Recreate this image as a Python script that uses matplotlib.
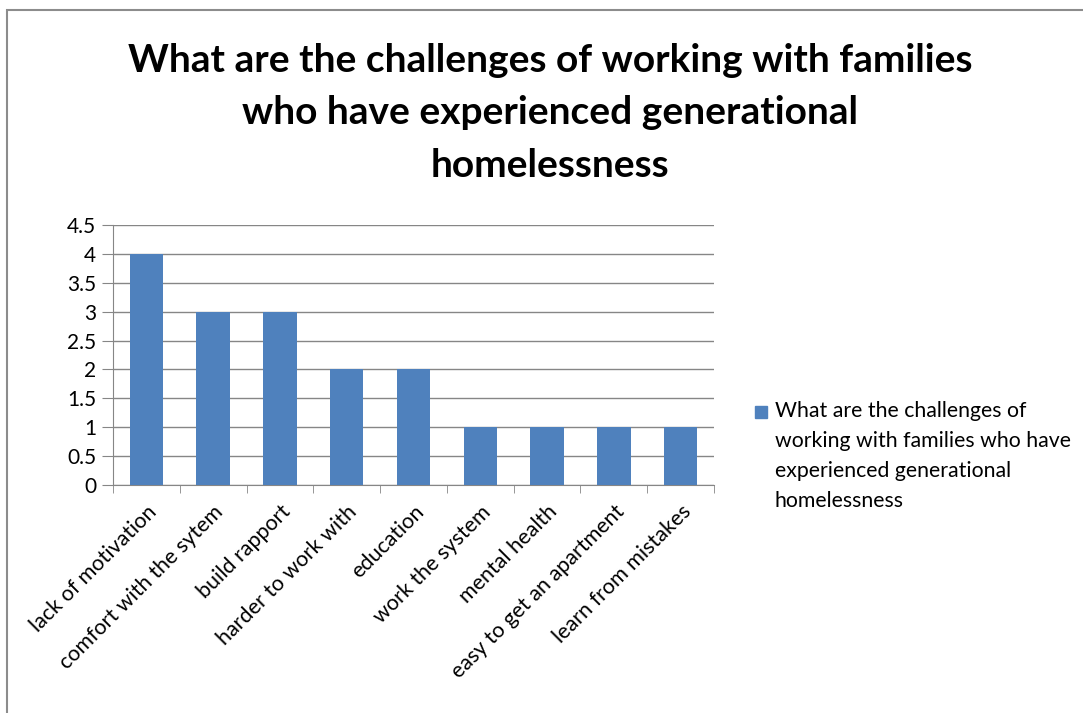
import matplotlib
matplotlib.use('Agg')
import matplotlib.pyplot as plt
from matplotlib.patches import Rectangle
import numpy as np

plt.rcParams['font.family'] = ['Lato', 'DejaVu Sans']

categories = ['lack of motivation', 'comfort with the sytem', 'build rapport',
              'harder to work with', 'education', 'work the system',
              'mental health', 'easy to get an apartment', 'learn from mistakes']
counts = [4, 3, 3, 2, 2, 1, 1, 1, 1]
series_name = ('What are the challenges of\nworking with families who have\n'
               'experienced generational\nhomelessness')
title = ('What are the challenges of working with families\n'
         'who have experienced generational\nhomelessness')

bar_color = '#4F81BD'
grid_color = '#868686'
W, H = 1083, 713

fig = plt.figure(figsize=(W / 100, H / 100), dpi=100)
# chart frame
fig.patches.append(Rectangle((7 / W, -0.01), 1.0, 1 - 10 / H + 0.01,
                             transform=fig.transFigure, fill=False,
                             edgecolor='#8c8c8c', linewidth=1.5))

ax = fig.add_axes([113 / W, 1 - 485 / H, (714 - 113) / W, (485 - 225) / H])
x = np.arange(len(categories))
ax.bar(x, counts, width=0.5, color=bar_color, zorder=3)

ax.set_xlim(-0.5, len(categories) - 0.5)
ax.set_ylim(0, 4.5)
ax.set_yticks(np.arange(0, 4.51, 0.5))
ax.set_yticklabels(['0', '0.5', '1', '1.5', '2', '2.5', '3', '3.5', '4', '4.5'])
ax.yaxis.grid(True, color=grid_color, linewidth=1, zorder=0)
ax.tick_params(axis='y', length=8, color=grid_color, labelsize=15, pad=4)

ax.set_xticks(x)
ax.set_xticklabels(categories, rotation=45, ha='right', rotation_mode='anchor', fontsize=15.5)
ax.tick_params(axis='x', which='major', length=0, pad=12)
ax.set_xticks(np.arange(-0.5, len(categories), 1), minor=True)
ax.tick_params(axis='x', which='minor', length=6, color=grid_color)

for side in ['top', 'right']:
    ax.spines[side].set_visible(False)
for side in ['left', 'bottom']:
    ax.spines[side].set_color(grid_color)

fig.text(550 / W, 1 - 113 / H, title, ha='center', va='center',
         fontsize=28, fontweight='bold', linespacing=1.62)

# legend key and series name
fig.patches.append(Rectangle((755 / W, 1 - 418 / H), 12 / W, 12 / H,
                             transform=fig.transFigure, color=bar_color))
fig.text(775 / W, 1 - 401 / H, series_name, ha='left', va='top',
         fontsize=15.3, linespacing=1.62)

fig.savefig('out.png', dpi=100)
